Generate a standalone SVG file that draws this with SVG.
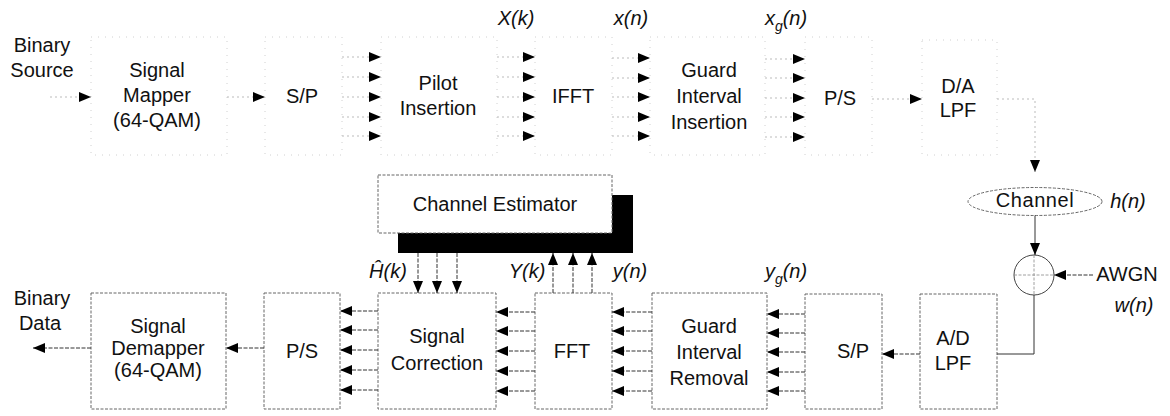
<svg xmlns="http://www.w3.org/2000/svg" width="1170" height="416" viewBox="0 0 1170 416">
<defs>
<marker id="ah" markerUnits="userSpaceOnUse" markerWidth="13" markerHeight="11" refX="12" refY="5.5" orient="auto">
<path d="M0,0.5 L12,5.5 L0,10.5 z" fill="#000"/>
</marker>
<style>
text{font-family:"Liberation Sans",Arial,sans-serif;font-size:20px;fill:#111;text-anchor:middle}
.it{font-style:italic}
.tb{fill:#fff;stroke:#d0d0d0;stroke-width:1;stroke-dasharray:1 6}
.bb{fill:#fff;stroke:#666;stroke-width:1;stroke-dasharray:3 1.5}
.tc{fill:none;stroke:#bbb;stroke-width:1;stroke-dasharray:2 3;marker-end:url(#ah)}
.bc{fill:none;stroke:#333;stroke-width:1;stroke-dasharray:4 1.5;marker-end:url(#ah)}
.sc{fill:none;stroke:#333;stroke-width:1}
</style>
</defs>
<rect width="1170" height="416" fill="#fff"/>

<!-- top row nodes -->
<g id="binary-source"><text x="42" y="52">Binary</text><text x="42" y="77">Source</text></g>
<g id="signal-mapper"><rect class="tb" x="91" y="37" width="136" height="118"/><text x="157" y="77">Signal</text><text x="157" y="102">Mapper</text><text x="157" y="127">(64-QAM)</text></g>
<g id="sp-top"><rect class="tb" x="265" y="37" width="77" height="118"/><text x="302" y="103">S/P</text></g>
<g id="pilot"><rect class="tb" x="381" y="37" width="116" height="118"/><text x="438" y="90">Pilot</text><text x="438" y="115">Insertion</text></g>
<g id="ifft"><rect class="tb" x="535" y="37" width="77" height="118"/><text x="573" y="103">IFFT</text></g>
<g id="gi-insert"><rect class="tb" x="650" y="37" width="115" height="118"/><text x="709" y="77">Guard</text><text x="709" y="103">Interval</text><text x="709" y="129">Insertion</text></g>
<g id="ps-top"><rect class="tb" x="805" y="37" width="67" height="118"/><text x="840" y="105">P/S</text></g>
<g id="da"><rect class="tb" x="922" y="40" width="75" height="115"/><text x="958" y="93">D/A</text><text x="958" y="117">LPF</text></g>

<!-- top labels -->
<g id="top-labels">
<text class="it" x="516" y="25">X(k)</text>
<text class="it" x="631" y="25">x(n)</text>
<text class="it" x="786" y="25">x<tspan font-size="14" dy="6">g</tspan><tspan dy="-6">(n)</tspan></text>
</g>

<!-- channel estimator -->
<g id="channel-estimator">
<rect x="398" y="195" width="235" height="58" fill="#000"/>
<rect class="bb" x="378" y="175" width="234" height="58"/>
<text x="495" y="211">Channel Estimator</text>
</g>

<!-- channel, adder -->
<g id="channel"><ellipse cx="1035" cy="201.5" rx="67" ry="14" fill="#fff" stroke="#666" stroke-dasharray="3 1.5"/><text x="1035" y="207" font-size="16" letter-spacing="0.6">Channel</text></g>
<g id="h-label"><text class="it" x="1128" y="208">h(n)</text></g>
<g id="adder"><circle cx="1034" cy="275" r="20" fill="#fff" stroke="#444"/><path d="M1014,275 H1054 M1034,255 V295" stroke="#888" stroke-width="0.8" stroke-dasharray="3 1.5"/></g>
<g id="awgn"><text x="1127" y="281">AWGN</text><text class="it" x="1134" y="312">w(n)</text></g>

<!-- bottom row nodes -->
<g id="binary-data"><text x="42" y="305">Binary</text><text x="40" y="330">Data</text></g>
<g id="demapper"><rect class="bb" x="91" y="293" width="135" height="116"/><text x="158" y="333">Signal</text><text x="158" y="355">Demapper</text><text x="158" y="377">(64-QAM)</text></g>
<g id="ps-bottom"><rect class="bb" x="264" y="293" width="76" height="116"/><text x="302" y="358">P/S</text></g>
<g id="signal-correction"><rect class="bb" x="378" y="293" width="118" height="116"/><text x="437" y="343">Signal</text><text x="437" y="370">Correction</text></g>
<g id="fft"><rect class="bb" x="535" y="293" width="77" height="116"/><text x="572" y="358">FFT</text></g>
<g id="gi-removal"><rect class="bb" x="652" y="293" width="115" height="116"/><text x="709" y="333">Guard</text><text x="709" y="359">Interval</text><text x="709" y="385">Removal</text></g>
<g id="sp-bottom"><rect class="bb" x="805" y="294" width="77" height="115"/><text x="853" y="358">S/P</text></g>
<g id="ad"><rect class="bb" x="920" y="294" width="77" height="115"/><text x="953" y="345">A/D</text><text x="953" y="370">LPF</text></g>

<!-- bottom labels -->
<g id="bottom-labels">
<text class="it" x="388" y="278">Ĥ(k)</text>
<text class="it" x="527" y="278">Y(k)</text>
<text class="it" x="630" y="278">y(n)</text>
<text class="it" x="786" y="278">y<tspan font-size="14" dy="6">g</tspan><tspan dy="-6">(n)</tspan></text>
</g>

<!-- connectors -->
<g id="connectors">
<path class="tc" d="M50,97 H91"/>
<path class="tc" d="M227,97 H265"/>
<path class="tc" d="M342,57 H381"/><path class="tc" d="M342,77 H381"/><path class="tc" d="M342,97 H381"/><path class="tc" d="M342,117 H381"/><path class="tc" d="M342,136 H381"/>
<path class="tc" d="M497,57 H535"/><path class="tc" d="M497,77 H535"/><path class="tc" d="M497,97 H535"/><path class="tc" d="M497,117 H535"/><path class="tc" d="M497,136 H535"/>
<path class="tc" d="M612,58 H650"/><path class="tc" d="M612,78 H650"/><path class="tc" d="M612,97 H650"/><path class="tc" d="M612,117 H650"/><path class="tc" d="M612,136 H650"/>
<path class="tc" d="M765,59 H805"/><path class="tc" d="M765,78 H805"/><path class="tc" d="M765,98 H805"/><path class="tc" d="M765,117 H805"/><path class="tc" d="M765,137 H805"/>
<path class="tc" d="M872,99 H922"/>
<path class="tc" d="M997,99 H1035 V172"/>
<path class="sc" d="M1035,215.5 V255" marker-end="url(#ah)"/>
<path class="bc" d="M1093,275 H1054"/>
<path class="sc" d="M1034,295 V354 H997"/>
<path class="bc" d="M920,354 H882"/>
<path class="bc" d="M805,314 H767"/><path class="bc" d="M805,333 H767"/><path class="bc" d="M805,352 H767"/><path class="bc" d="M805,372 H767"/><path class="bc" d="M805,391 H767"/>
<path class="bc" d="M652,312 H612"/><path class="bc" d="M652,331 H612"/><path class="bc" d="M652,351 H612"/><path class="bc" d="M652,371 H612"/><path class="bc" d="M652,391 H612"/>
<path class="bc" d="M535,312 H496"/><path class="bc" d="M535,331 H496"/><path class="bc" d="M535,351 H496"/><path class="bc" d="M535,371 H496"/><path class="bc" d="M535,391 H496"/>
<path class="bc" d="M378,311 H340"/><path class="bc" d="M378,330 H340"/><path class="bc" d="M378,350 H340"/><path class="bc" d="M378,370 H340"/><path class="bc" d="M378,390 H340"/>
<path class="bc" d="M264,348 H226"/>
<path class="bc" d="M91,348 H33"/>
<path class="bc" d="M418,253 V293"/><path class="bc" d="M437,253 V293"/><path class="bc" d="M457,253 V293"/>
<path class="bc" d="M553,293 V253"/><path class="bc" d="M573,293 V253"/><path class="bc" d="M592,293 V253"/>
</g>
</svg>
